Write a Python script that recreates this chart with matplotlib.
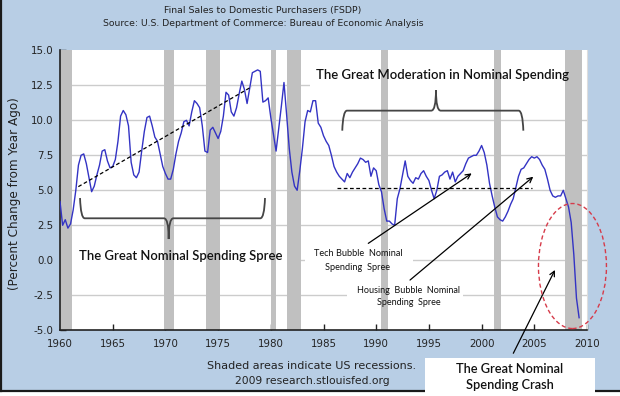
import numpy as np
import matplotlib
matplotlib.use("Agg")
import matplotlib.pyplot as plt
from matplotlib.patches import Rectangle, Ellipse, PathPatch
from matplotlib.path import Path

# ---------------- data ----------------
start_year = 1960
fsdp = [
    4.2, 2.5, 2.9, 2.3,     # 1960
    2.6, 3.6, 5.0, 6.8,     # 1961
    7.5, 7.6, 6.9, 5.9,     # 1962
    4.9, 5.3, 6.1, 6.8,     # 1963
    7.8, 7.9, 7.1, 6.6,     # 1964
    6.7, 7.2, 8.5, 10.3,    # 1965
    10.7, 10.4, 9.6, 7.0,   # 1966
    6.1, 5.9, 6.3, 7.8,     # 1967
    9.2, 10.2, 10.3, 9.6,   # 1968
    8.8, 8.5, 7.6, 6.7,     # 1969
    6.2, 5.8, 5.8, 6.5,     # 1970
    7.6, 8.5, 9.1, 9.9,     # 1971
    10.0, 9.6, 10.6, 11.4,  # 1972
    11.2, 10.9, 9.6, 7.8,   # 1973
    7.7, 9.3, 9.5, 9.1,     # 1974
    8.7, 9.2, 10.3, 12.0,   # 1975
    11.8, 10.6, 10.3, 10.9, # 1976
    11.9, 12.8, 12.2, 11.2, # 1977
    12.3, 13.4, 13.5, 13.6, # 1978
    13.5, 11.3, 11.4, 11.6, # 1979
    10.2, 9.0, 7.8, 9.4,    # 1980
    11.0, 12.7, 10.4, 8.0,  # 1981
    6.3, 5.3, 5.0, 6.4,     # 1982
    8.0, 9.9, 10.7, 10.6,   # 1983
    11.4, 11.4, 9.8, 9.5,   # 1984
    8.9, 8.5, 8.2, 7.5,     # 1985
    6.7, 6.3, 6.0, 5.8,     # 1986
    5.6, 6.2, 5.9, 6.3,     # 1987
    6.6, 6.9, 7.3, 7.2,     # 1988
    7.0, 7.1, 6.0, 6.6,     # 1989
    6.4, 5.4, 4.9, 3.7,     # 1990
    2.8, 2.8, 2.6, 2.5,     # 1991
    4.4, 5.1, 6.1, 7.1,     # 1992
    6.0, 5.7, 5.5, 5.9,     # 1993
    5.8, 6.2, 6.4, 6.0,     # 1994
    5.7, 5.0, 4.4, 5.0,     # 1995
    6.0, 6.1, 6.3, 6.4,     # 1996
    5.8, 6.3, 5.6, 6.0,     # 1997
    6.2, 6.4, 6.9, 7.3,     # 1998
    7.4, 7.5, 7.5, 7.8,     # 1999
    8.2, 7.7, 6.8, 5.5,     # 2000
    4.6, 3.8, 3.1, 2.9,     # 2001
    2.8, 3.1, 3.5, 4.0,     # 2002
    4.4, 5.2, 6.0, 6.5,     # 2003
    6.6, 6.9, 7.2, 7.4,     # 2004
    7.3, 7.4, 7.2, 6.8,     # 2005
    6.5, 5.8, 5.0, 4.6,     # 2006
    4.5, 4.6, 4.6, 5.0,     # 2007
    4.4, 3.8, 2.7, 0.4,     # 2008
    -2.7, -4.1,             # 2009
]
recession_start = [1960.0, 1969.9, 1973.85, 1980.0, 1981.5, 1990.5, 2001.15, 2007.9]
recession_end = [1961.1, 1970.85, 1975.2, 1980.5, 1982.9, 1991.15, 2001.85, 2009.5]
y_ticks = [-5.0, -2.5, 0.0, 2.5, 5.0, 7.5, 10.0, 12.5, 15.0]
x_ticks = [1960, 1965, 1970, 1975, 1980, 1985, 1990, 1995, 2000, 2005, 2010]

title1 = "Final Sales to Domestic Purchasers (FSDP)"
title2 = "Source: U.S. Department of Commerce: Bureau of Economic Analysis"
ylabel = "(Percent Change from Year Ago)"
foot1 = "Shaded areas indicate US recessions."
foot2 = "2009 research.stlouisfed.org"

# ---------------- style ----------------
W, H = 620, 396
BG = "#b8cee5"
LINE = "#3333c4"
SHADE = "#c0c0c0"
GRID = "#cccccc"
ANN_FONT = ["Lato", "DejaVu Sans"]

fig = plt.figure(figsize=(W / 100, H / 100), dpi=100, facecolor=BG)
ax = fig.add_axes([60 / W, 1 - 330.3 / H, 527 / W, 280 / H])
ax.set_facecolor("white")

dates = start_year + 0.25 * np.arange(len(fsdp))
ax.plot(dates, fsdp, color=LINE, lw=1.0, zorder=4)

for s, e in zip(recession_start, recession_end):
    ax.axvspan(s, e, color=SHADE, lw=0, zorder=2)

ax.set_xlim(1960, 2010)
ax.set_ylim(-5, 15)
ax.set_yticks(y_ticks)
ax.set_yticklabels([f"{v:.1f}" for v in y_ticks])
ax.set_xticks(x_ticks)
ax.set_xticklabels([str(v) for v in x_ticks])
ax.tick_params(axis="both", direction="in", length=4, width=1.0, colors="#222222",
               labelsize=7.4)
ax.tick_params(axis="y", pad=4.5)
ax.tick_params(axis="x", pad=6.5)
ax.yaxis.grid(True, color=GRID, lw=1.0, zorder=0.5)
ax.set_axisbelow(True)
for gl in ax.get_ygridlines()[-1:] + ax.get_ygridlines()[:1]:
    gl.set_visible(False)
ax.spines["top"].set_visible(False)
ax.spines["right"].set_color("#dddddd")
ax.spines["right"].set_linewidth(0.8)
for side in ("left", "bottom"):
    ax.spines[side].set_color("#222222")
    ax.spines[side].set_linewidth(1.2)

# ---------------- white boxes (under shading) ----------------
def wbox(x0, x1, y0, y1, z=1.5):
    ax.add_patch(Rectangle((x0, y0), x1 - x0, y1 - y0, facecolor="white",
                           edgecolor="none", zorder=z, clip_on=False))

wbox(1961.14, 1981.82, -0.41, 1.09)       # spree
wbox(1983.72, 2010.0, 12.38, 14.16)       # moderation
wbox(1983.24, 1993.49, -0.98, 1.02)       # tech
wbox(1987.23, 1998.24, -3.69, -1.55)      # housing

# ---------------- braces ----------------
def brace(x0, x1, xm, y_line, y_end, y_tip, dx=0.45):
    verts = [
        (x0, y_end), (x0 + dx * 0.15, y_line), (x0 + dx, y_line),
        (xm - dx, y_line),
        (xm, y_line), (xm, y_tip),
        (xm, y_line), (xm + dx, y_line),
        (x1 - dx, y_line),
        (x1 - dx * 0.15, y_line), (x1, y_end),
    ]
    codes = [Path.MOVETO, Path.CURVE3, Path.CURVE3,
             Path.LINETO,
             Path.CURVE3, Path.CURVE3,
             Path.CURVE3, Path.CURVE3,
             Path.LINETO,
             Path.CURVE3, Path.CURVE3]
    ax.add_patch(PathPatch(Path(verts, codes), facecolor="none", edgecolor="#454545",
                           lw=1.3, zorder=5, clip_on=False))

brace(1961.90, 1979.45, 1970.31, 3.0, 4.45, 1.52)
brace(1986.78, 2003.96, 1995.67, 10.69, 9.26, 12.16)

# ---------------- dashed lines ----------------
ax.plot([1961.74, 1978.19], [5.26, 12.40], color="black", lw=0.9,
        ls=(0, (3, 2)), zorder=5)
ax.plot([1986.25, 2004.75], [5.14, 5.14], color="black", lw=0.9,
        ls=(0, (3, 2)), zorder=5)

# ---------------- arrows ----------------
def arrow(xy_from, xy_to):
    ax.annotate("", xy=xy_to, xytext=xy_from,
                arrowprops=dict(arrowstyle="->", color="black", lw=0.9,
                                shrinkA=0, shrinkB=0, mutation_scale=9),
                annotation_clip=False, zorder=6)

arrow((1989.25, 1.21), (1999.06, 6.21))
arrow((1993.21, -1.41), (2004.90, 5.97))
arrow((2003.01, -6.64), (2006.96, -0.69))

# ---------------- ellipse ----------------
ax.add_patch(Ellipse((2008.62, -0.41), 6.45, 8.93, facecolor="none",
                     edgecolor="#d63b4a", lw=1.0, ls=(0, (3, 2)), zorder=6,
                     clip_on=False))

# ---------------- annotation texts ----------------
fits = []
t = ax.text(1971.48, 0.34, "The Great Nominal Spending Spree", ha="center", va="center",
            family=ANN_FONT, weight="semibold", fontsize=11, color="#111111", zorder=7)
fits.append((t, 202))
t = ax.text(1996.29, 13.24, "The Great Moderation in Nominal Spending", ha="center",
            va="center", family=ANN_FONT, weight="semibold", fontsize=11,
            color="#111111", zorder=7)
fits.append((t, 252))
t1 = ax.text(1988.25, 0.45, "Tech Bubble  Nominal", ha="center", va="center",
             family=ANN_FONT, fontsize=7, color="#111111", zorder=7)
t2 = ax.text(1988.25, -0.48, "Spending  Spree", ha="center", va="center",
             family=ANN_FONT, fontsize=7, color="#111111", zorder=7)
fits.append((t1, 88, [t2]))
t1 = ax.text(1993.08, -2.17, "Housing  Bubble  Nominal", ha="center", va="center",
             family=ANN_FONT, fontsize=7, color="#111111", zorder=7)
t2 = ax.text(1993.08, -3.03, "Spending  Spree", ha="center", va="center",
             family=ANN_FONT, fontsize=7, color="#111111", zorder=7)
fits.append((t1, 103, [t2]))

# crash box in figure coordinates
fig.patches.append(Rectangle((425 / W, 0), 170 / W, 38 / H, facecolor="white",
                             edgecolor="none", transform=fig.transFigure, zorder=3))
t1 = fig.text(510 / W, 1 - 369 / H, "The Great Nominal", ha="center", va="center",
              family=ANN_FONT, weight="semibold", fontsize=12, color="#111111", zorder=4)
t2 = fig.text(510 / W, 1 - 385 / H, "Spending Crash", ha="center", va="center",
              family=ANN_FONT, weight="semibold", fontsize=12, color="#111111", zorder=4)
fits.append((t1, 107, [t2]))

# titles and footers
t1 = fig.text(263 / W, 1 - 10 / H, title1, ha="center", va="center", fontsize=8,
              color="#222222")
fits.append((t1, 198))
t2 = fig.text(263 / W, 1 - 24 / H, title2, ha="center", va="center", fontsize=8,
              color="#222222")
fits.append((t2, 321))
f1 = fig.text(312 / W, 1 - 366 / H, foot1, ha="center", va="center", fontsize=8,
              color="#222222")
fits.append((f1, 209))
f2 = fig.text(312 / W, 1 - 381 / H, foot2, ha="center", va="center", fontsize=8,
              color="#222222")
fits.append((f2, 155))
yl = fig.text(15 / W, 1 - 194 / H, ylabel, ha="center", va="center", rotation=90,
              fontsize=8, color="#222222")

# figure border (left and bottom)
fig.patches.append(Rectangle((0, 0), 1, 4 / H, facecolor="white", edgecolor="none",
                             transform=fig.transFigure, zorder=1))
fig.lines.append(plt.Line2D([0, 1], [5 / H, 5 / H], color="#1a1a1a", lw=1.6,
                            transform=fig.transFigure, zorder=2))
fig.lines.append(plt.Line2D([1 / W, 1 / W], [5 / H, 1], color="#1a1a1a", lw=1.6,
                            transform=fig.transFigure, zorder=2))

# fit text widths to the reference layout
renderer = fig.canvas.get_renderer()
for item in fits:
    txt, target = item[0], item[1]
    others = item[2] if len(item) > 2 else []
    w = txt.get_window_extent(renderer).width
    fs = txt.get_fontsize() * target / w
    txt.set_fontsize(fs)
    for o in others:
        o.set_fontsize(fs)
h = yl.get_window_extent(renderer).height
yl.set_fontsize(yl.get_fontsize() * 194 / h)

fig.savefig("out.png", dpi=100, facecolor=BG)
